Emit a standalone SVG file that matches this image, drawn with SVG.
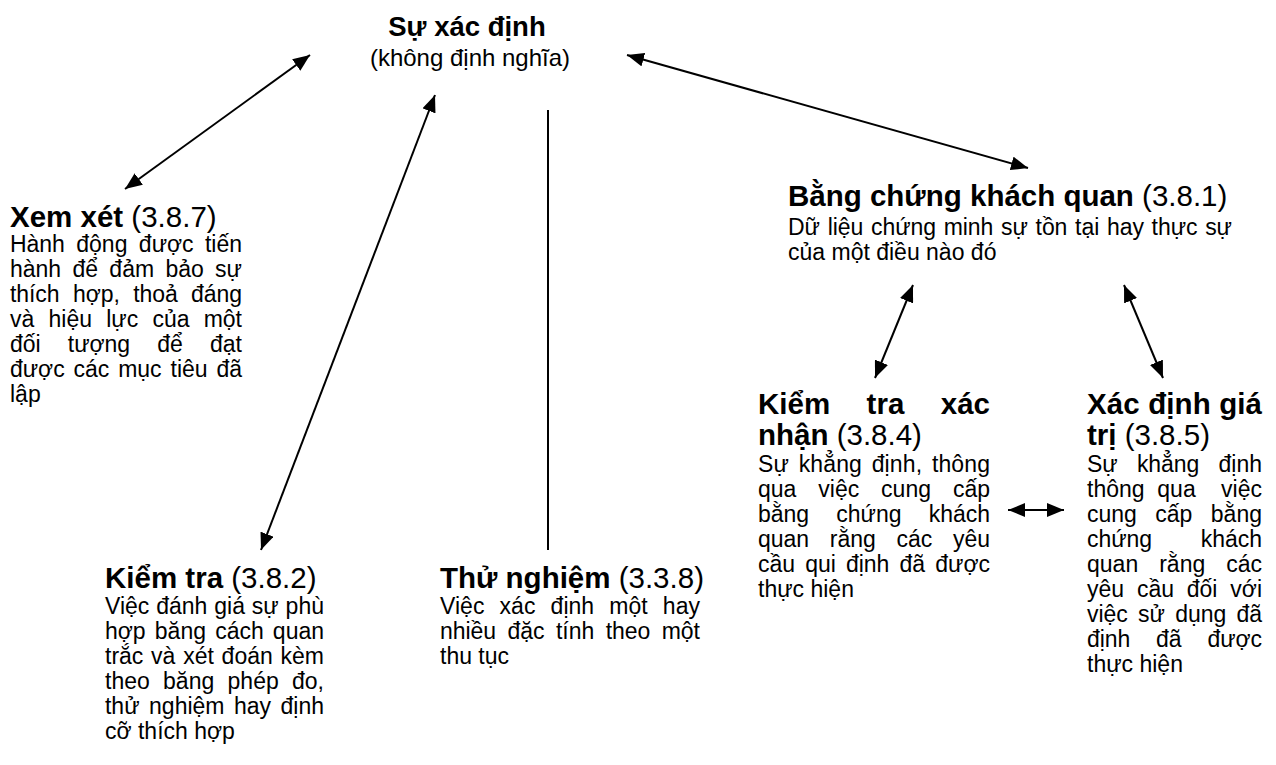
<svg xmlns="http://www.w3.org/2000/svg" width="1276" height="765" viewBox="0 0 1276 765">
<style>
text{font-family:"Liberation Sans",Arial,sans-serif;fill:#000}
.t{font-size:27.5px;font-weight:bold}
.st{font-size:24px}
.h{font-size:29.5px}
.b{font-weight:bold}
.p{font-size:23px}
.c{stroke:#000;stroke-width:2;fill:none}
.a{marker-start:url(#ah);marker-end:url(#ah)}
</style>
<defs>
<marker id="ah" markerUnits="userSpaceOnUse" markerWidth="17" markerHeight="14" refX="17" refY="7" orient="auto-start-reverse" viewBox="0 0 17 14">
<path d="M0,0 L17,7 L0,14 z" fill="#000"/>
</marker>
</defs>
<rect width="1276" height="765" fill="#fff"/>
<g id="connectors">
<line class="c a" x1="310" y1="55" x2="125" y2="189"/>
<line class="c a" x1="435" y1="95" x2="261" y2="550"/>
<line class="c" x1="548" y1="110" x2="548" y2="550"/>
<line class="c a" x1="627" y1="55" x2="1028" y2="168"/>
<line class="c a" x1="913" y1="285" x2="875" y2="378"/>
<line class="c a" x1="1124" y1="285" x2="1163" y2="378"/>
<line class="c a" x1="1008" y1="510" x2="1064" y2="510"/>
</g>
<g id="su-xac-dinh">
<text class="t" x="467" y="36" text-anchor="middle">Sự xác định</text>
<text class="st" x="470" y="66" text-anchor="middle">(không định nghĩa)</text>
</g>
<g id="xem-xet">
<text class="h" x="10" y="227"><tspan class="b">Xem xét</tspan> (3.8.7)</text>
<text class="p" x="10" y="252" word-spacing="5.1" textLength="232" lengthAdjust="spacing">Hành động được tiến</text>
<text class="p" x="10" y="277" word-spacing="5" textLength="232" lengthAdjust="spacing">hành để đảm bảo sự</text>
<text class="p" x="10" y="302" word-spacing="7.1" textLength="232" lengthAdjust="spacing">thích hợp, thoả đáng</text>
<text class="p" x="10" y="327" word-spacing="7.9" textLength="232" lengthAdjust="spacing">và hiệu lực của một</text>
<text class="p" x="10" y="352" word-spacing="20.9" textLength="232" lengthAdjust="spacing">đối tượng để đạt</text>
<text class="p" x="10" y="377" word-spacing="2.6" textLength="232" lengthAdjust="spacing">được các mục tiêu đã</text>
<text class="p" x="10" y="402">lập</text>
</g>
<g id="kiem-tra">
<text class="h" x="105" y="588"><tspan class="b">Kiểm tra</tspan> (3.8.2)</text>
<text class="p" x="105" y="614" word-spacing="0.5" textLength="219" lengthAdjust="spacing">Việc đánh giá sự phù</text>
<text class="p" x="105" y="639" word-spacing="2.8" textLength="219" lengthAdjust="spacing">hợp băng cách quan</text>
<text class="p" x="105" y="664" word-spacing="1.4" textLength="219" lengthAdjust="spacing">trắc và xét đoán kèm</text>
<text class="p" x="105" y="689" word-spacing="6.9" textLength="219" lengthAdjust="spacing">theo băng phép đo,</text>
<text class="p" x="105" y="714" word-spacing="3.2" textLength="219" lengthAdjust="spacing">thử nghiệm hay định</text>
<text class="p" x="105" y="739">cỡ thích hợp</text>
</g>
<g id="thu-nghiem">
<text class="h" x="440" y="588"><tspan class="b">Thử nghiệm</tspan> (3.3.8)</text>
<text class="p" x="440" y="614" word-spacing="8.7" textLength="260" lengthAdjust="spacing">Việc xác định một hay</text>
<text class="p" x="440" y="639" word-spacing="5.2" textLength="260" lengthAdjust="spacing">nhiều đặc tính theo một</text>
<text class="p" x="440" y="664">thu tục</text>
</g>
<g id="bang-chung">
<text class="h" x="788" y="206"><tspan class="b">Bằng chứng khách quan</tspan> (3.8.1)</text>
<text class="p" x="788" y="235" word-spacing="1.4" textLength="444" lengthAdjust="spacing">Dữ liệu chứng minh sự tồn tại hay thực sự</text>
<text class="p" x="788" y="260">của một điều nào đó</text>
</g>
<g id="kiem-tra-xac-nhan">
<text class="h b" x="758" y="414" word-spacing="28.3" textLength="232" lengthAdjust="spacing">Kiểm tra xác</text>
<text class="h" x="758" y="445"><tspan class="b">nhận</tspan> (3.8.4)</text>
<text class="p" x="758" y="472" word-spacing="3.1" textLength="232" lengthAdjust="spacing">Sự khẳng định, thông</text>
<text class="p" x="758" y="497" word-spacing="15.5" textLength="232" lengthAdjust="spacing">qua việc cung cấp</text>
<text class="p" x="758" y="522" word-spacing="21" textLength="232" lengthAdjust="spacing">bằng chứng khách</text>
<text class="p" x="758" y="547" word-spacing="14.3" textLength="232" lengthAdjust="spacing">quan rằng các yêu</text>
<text class="p" x="758" y="572" word-spacing="3.9" textLength="232" lengthAdjust="spacing">cầu qui định đã được</text>
<text class="p" x="758" y="597">thực hiện</text>
</g>
<g id="xac-dinh-gia-tri">
<text class="h b" x="1087" y="414" textLength="175" lengthAdjust="spacing">Xác định giá</text>
<text class="h" x="1087" y="445"><tspan class="b">trị</tspan> (3.8.5)</text>
<text class="p" x="1087" y="472" word-spacing="12.9" textLength="175" lengthAdjust="spacing">Sự khẳng định</text>
<text class="p" x="1087" y="497" xml:space="preserve" word-spacing="6.3" textLength="175" lengthAdjust="spacing">thông qua  việc</text>
<text class="p" x="1087" y="522" word-spacing="12" textLength="175" lengthAdjust="spacing">cung cấp bằng</text>
<text class="p" x="1087" y="547" word-spacing="42.4" textLength="175" lengthAdjust="spacing">chứng khách</text>
<text class="p" x="1087" y="572" word-spacing="14.6" textLength="175" lengthAdjust="spacing">quan rằng các</text>
<text class="p" x="1087" y="597" word-spacing="6.5" textLength="175" lengthAdjust="spacing">yêu cầu đối với</text>
<text class="p" x="1087" y="622" word-spacing="3.9" textLength="175" lengthAdjust="spacing">việc sử dụng đã</text>
<text class="p" x="1087" y="647" word-spacing="19.5" textLength="175" lengthAdjust="spacing">định đã được</text>
<text class="p" x="1087" y="672">thực hiện</text>
</g>
</svg>
